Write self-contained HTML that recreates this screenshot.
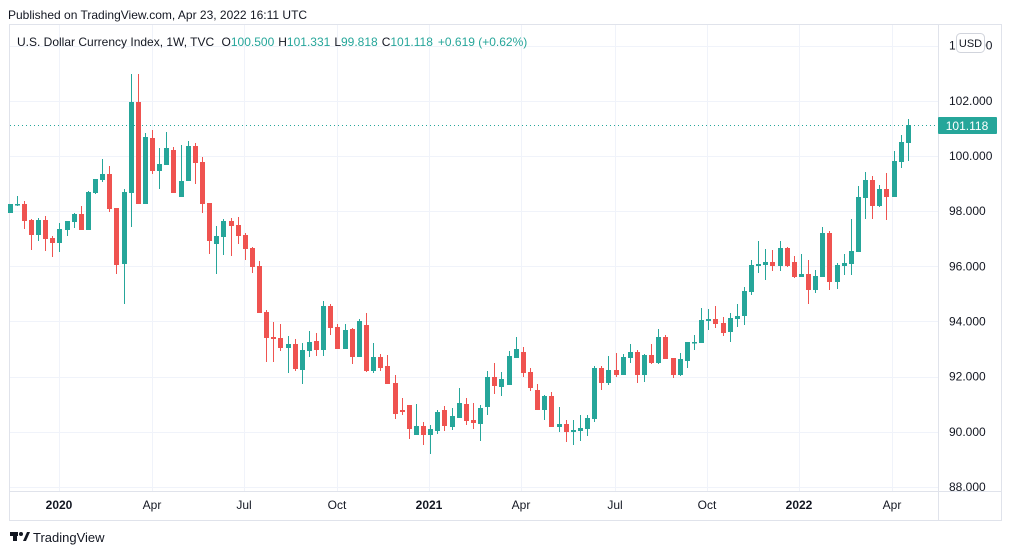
<!DOCTYPE html>
<html><head><meta charset="utf-8"><style>
body{margin:0;width:1012px;height:555px;background:#fff;overflow:hidden;font-family:"Liberation Sans",sans-serif;}
svg{position:absolute;left:0;top:0}
</style></head><body>
<svg id="s" width="1012" height="555" xmlns="http://www.w3.org/2000/svg" font-family="Liberation Sans, sans-serif">
<text x="8" y="19" font-size="12" fill="#131722">Published on TradingView.com, Apr 23, 2022 16:11 UTC</text>
<rect x="9.5" y="24.5" width="992" height="496" fill="none" stroke="#e0e3eb"/>
<g stroke="#f0f3fa" stroke-width="1" id="grid"></g>
<line x1="938.5" y1="25" x2="938.5" y2="520" stroke="#e0e3eb"/>
<line x1="10" y1="491.5" x2="1001" y2="491.5" stroke="#e0e3eb"/>
<text x="17" y="46" font-size="12" fill="#131722">U.S. Dollar Currency Index, 1W, TVC <tspan dx="4">O</tspan><tspan fill="#26a69a">100.500</tspan><tspan dx="4">H</tspan><tspan fill="#26a69a">101.331</tspan><tspan dx="4">L</tspan><tspan fill="#26a69a">99.818</tspan><tspan dx="4">C</tspan><tspan fill="#26a69a">101.118</tspan><tspan dx="5" fill="#26a69a">+0.619 (+0.62%)</tspan></text>
<g font-size="12" fill="#131722" id="pl"></g>
<g font-size="12" fill="#131722" text-anchor="middle">
<text x="59" y="509" font-weight="bold">2020</text><text x="152" y="509">Apr</text><text x="244" y="509">Jul</text><text x="337" y="509">Oct</text>
<text x="429" y="509" font-weight="bold">2021</text><text x="521" y="509">Apr</text><text x="615" y="509">Jul</text><text x="707" y="509">Oct</text>
<text x="799" y="509" font-weight="bold">2022</text><text x="892" y="509">Apr</text>
</g>
<line x1="10" y1="125.5" x2="938" y2="125.5" stroke="#26a69a" stroke-dasharray="1,3"/>
<g id="c"></g>
<rect x="938" y="117" width="59" height="17" fill="#26a69a" rx="1"/>
<text x="967" y="130" font-size="12" fill="#fff" text-anchor="middle">101.118</text>
<rect x="956.5" y="33.5" width="28" height="19" rx="4" fill="#fff" stroke="#d1d4dc"/>
<text x="970.5" y="47" font-size="11" fill="#131722" text-anchor="middle">USD</text>
<g transform="translate(10,530)"><rect x="0" y="2" width="8" height="4" fill="#131722"/><rect x="3" y="2" width="4" height="9" fill="#131722"/><circle cx="11" cy="4" r="2" fill="#131722"/><path d="M13 11 L17 2 L20 2 L16 11 Z" fill="#131722"/></g>
<text x="33" y="542" font-size="13" fill="#131722">TradingView</text>
</svg>
<script>
var ns="http://www.w3.org/2000/svg";
function el(p,t,a){var e=document.createElementNS(ns,t);for(var k in a)e.setAttribute(k,a[k]);p.appendChild(e);return e;}
var g=document.getElementById('grid'),pl=document.getElementById('pl');
for(var v=88;v<=104;v+=2){var y=156-(v-100)*27.58;el(g,'line',{x1:10,x2:938,y1:Math.round(y)+.5,y2:Math.round(y)+.5});
 if(v!=104){var t=el(pl,'text',{x:949,y:y+4});t.textContent=v.toFixed(3);}else{var t=el(pl,'text',{x:949,y:y+4});t.textContent="104.000";}}
[59,152,244,337,429,521,615,707,799,892].forEach(function(x){el(g,'line',{x1:x+.5,x2:x+.5,y1:25,y2:491});});
var D=[[213,204],[204,204,196,206],[204,221,201,229],[220,235,219,250],[235,220,218,241],[220,239,216,251],[238,243,236,257],[243,229,223,252],[230,221,221,236],[222,214,213,228],[214,230,206,230],[230,192,191,230],[193,179,179,194],[180,174,159,182],[174,209,166,212],[208,265,208,274],[264,192,189,304],[193,102,74,227],[102,204,74,204],[204,137,133,204],[138,171,130,174],[171,164,148,189],
[165,148,132,165],[150,193,147,193],[197,181,145,197],[181,146,141,181],[146,163,143,184],[162,204,157,213],[203,241,203,254],[244,236,226,274],[237,221,219,255],[221,226,218,256],[225,236,217,244],[235,249,233,260],[248,267,247,273],[266,313,261,313],[312,338,310,362],[337,339,322,362],[338,348,324,351],[348,344,336,373],[344,369,339,371],[370,350,343,384],[351,342,331,357],[341,350,333,356],
[350,306,301,356],[306,328,304,335],[327,349,324,349],[349,330,324,349],[329,357,328,364],[357,321,319,357],[325,371,313,372],[371,357,343,373],[357,368,354,371],[366,384,355,384],[383,414,375,419],[410,412,398,415],[405,429,405,439],[435,426,404,435],[426,435,422,445],[435,429,425,454],[431,412,410,434],[410,426,406,431],[427,416,408,430],[418,403,388,418],[404,421,398,425],[420,423,403,429],
[424,408,405,441],[407,377,371,415],[377,386,363,394],[387,379,372,396],[385,356,351,385],[358,349,337,358],[352,373,347,377],[372,388,368,391],[390,410,384,410],[410,396,395,420],[396,427,392,427],[427,424,407,432],[424,432,420,442],[432,430,420,445],[431,428,415,441],[429,418,415,436],[419,368,366,422],[368,383,366,390],[383,370,356,385],[370,375,353,377],[375,357,354,375],
[358,352,344,363],[352,375,350,383],[375,355,354,382],[355,363,344,364],[363,337,329,364],[337,359,335,359],[358,375,358,378],[375,359,353,376],[361,342,342,368],[343,342,335,350],[343,320,308,343],[321,319,309,330],[319,324,306,328],[323,333,317,336],[332,318,313,342],[319,316,304,327],[316,291,287,325],[292,265,260,295],[266,264,241,273],[265,262,249,280],
[262,266,250,271],[266,248,241,271],[248,266,247,267],[262,277,256,278],[277,274,254,277],[274,290,260,304],[290,276,270,293],[277,233,227,277],[233,282,231,290],[282,265,263,289],[266,263,254,275],[264,251,219,275],[252,197,186,252],[198,180,172,219],[180,206,176,219],[206,189,185,207],[189,197,173,220],[197,161,151,197],[162,142,135,168],[143,125,119,161]];
var c=document.getElementById('c');
D.forEach(function(d,i){var x=9.5+7.13*i,o=d[0],cl=d[1],h=d.length>2?d[2]:Math.min(o,cl),l=d.length>2?d[3]:Math.max(o,cl);
var col=cl<o||(cl==o&&i%2)?'#26a69a':'#ef5350';if(cl==o)col='#26a69a';
var xr=Math.round(x);
el(c,'rect',{x:xr,y:h,width:1,height:Math.max(1,l-h),fill:col});
var t=Math.min(o,cl),b=Math.max(o,cl);el(c,'rect',{x:xr-2,y:t,width:5,height:Math.max(1.5,b-t),fill:col});});
</script>
</body></html>
